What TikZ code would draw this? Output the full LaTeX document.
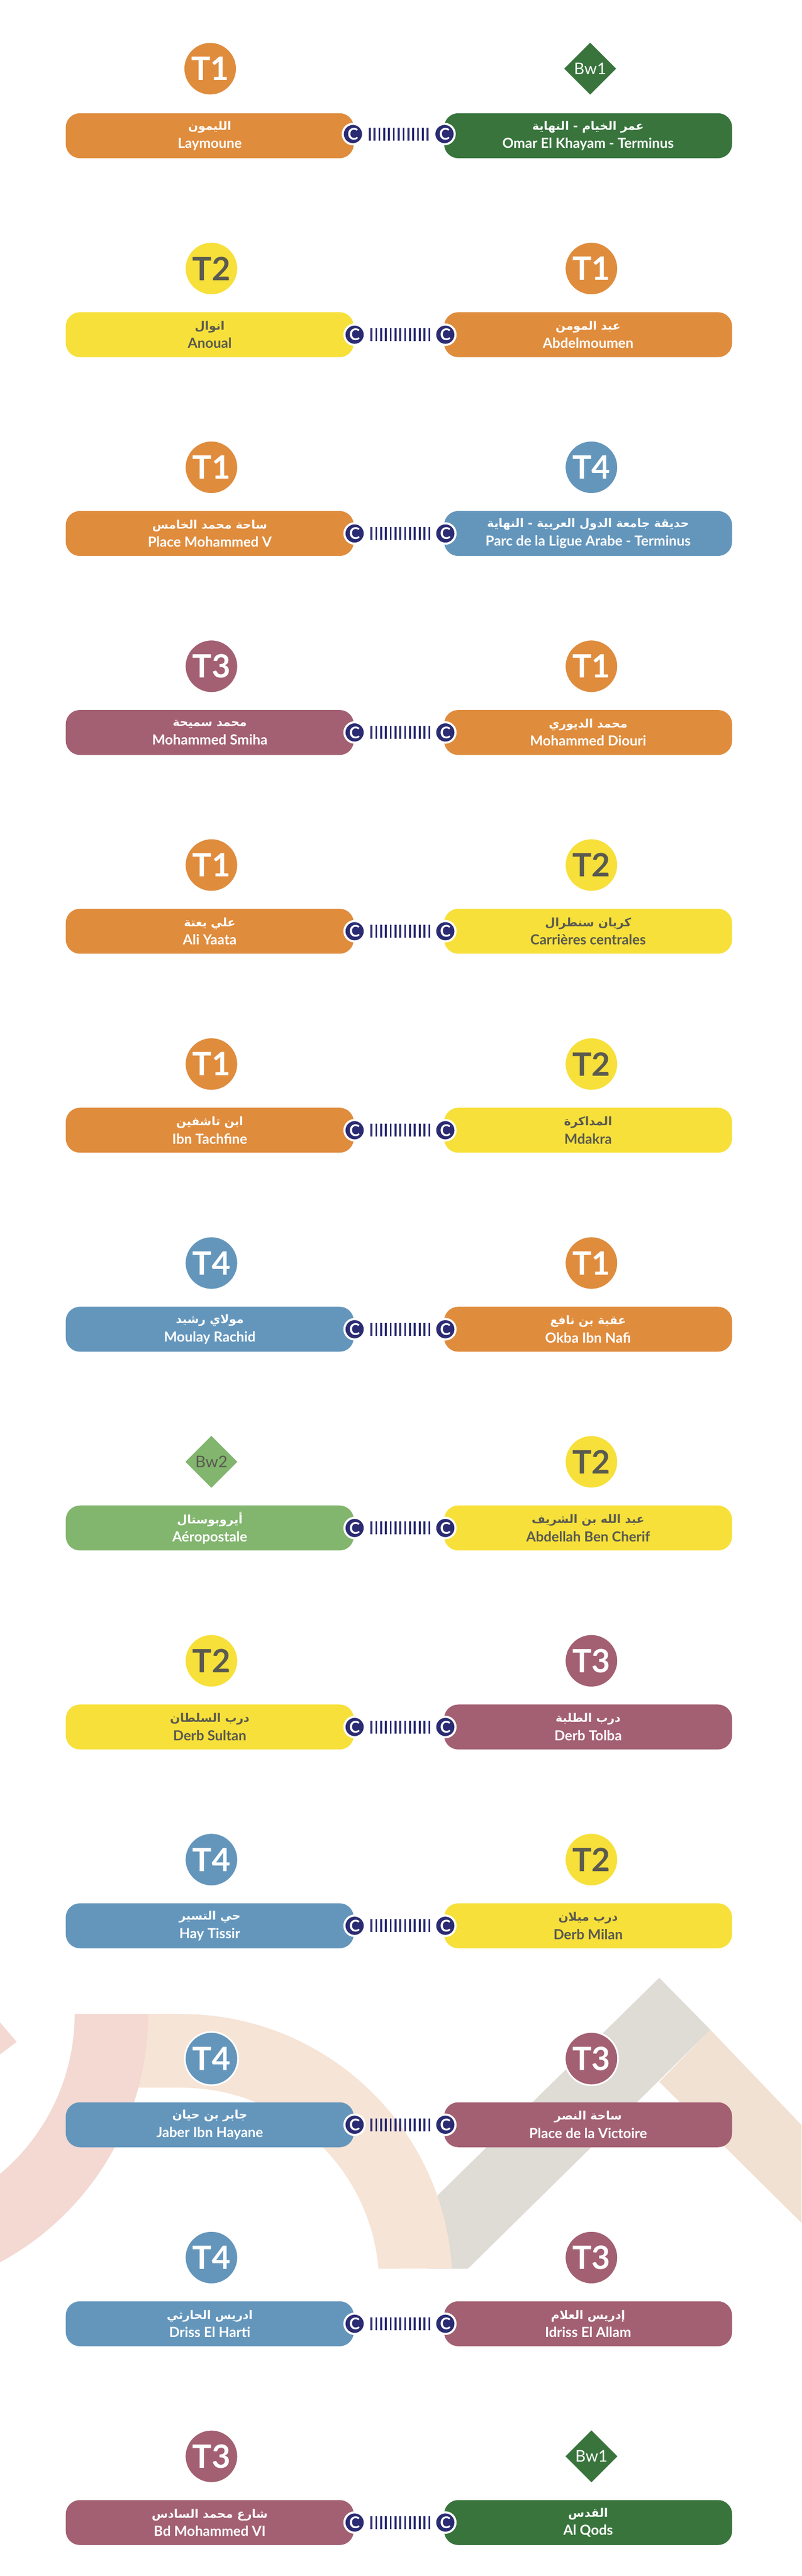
\documentclass[tikz,border=0pt]{standalone}
\usepackage{fontspec}
\setmainfont{Lato}
\newfontfamily\arabicfont[Script=Arabic]{DejaVu Sans}
\TeXXeTstate=1
\usetikzlibrary{shapes.geometric}
\definecolor{lineT1}{HTML}{DF8C3D}
\definecolor{lineT2}{HTML}{F7E03A}
\definecolor{lineT3}{HTML}{A36072}
\definecolor{lineT4}{HTML}{6496BC}
\definecolor{lineBa}{HTML}{38743C}
\definecolor{lineBb}{HTML}{82B56E}
\definecolor{darktext}{HTML}{5A5A50}
\definecolor{navy}{HTML}{2A2B72}
\definecolor{bgpink}{HTML}{F3D9D2}
\definecolor{bgpeach}{HTML}{F6E4D6}
\definecolor{bggrey}{HTML}{DFDBD5}
\definecolor{bgtan}{HTML}{F1E1D2}
\newcommand{\arname}[1]{{\arabicfont\fontsize{16}{25}\selectfont\beginR #1\endR}}
\tikzset{
    bar/.style={rounded corners=0.68cm, minimum width=13.84cm, minimum height=2.16cm, align=center, text=white, font=\fontsize{19}{25}\selectfont\bfseries},
    barT1/.style={bar, fill=lineT1},
    barT2/.style={bar, fill=lineT2, text=darktext},
    barT3/.style={bar, fill=lineT3},
    barT4/.style={bar, fill=lineT4},
    barBa/.style={bar, fill=lineBa},
    barBb/.style={bar, fill=lineBb},
    badge/.style={circle, draw=white, line width=0.08cm, minimum size=2.56cm, inner sep=0pt, text=white, font=\fontsize{44}{44}\selectfont\bfseries},
    badgeT1/.style={badge, fill=lineT1},
    badgeT2/.style={badge, fill=lineT2, text=darktext},
    badgeT3/.style={badge, fill=lineT3},
    badgeT4/.style={badge, fill=lineT4},
    tile/.style={diamond, minimum size=2.5cm, inner sep=0pt, font=\fontsize{22}{22}\selectfont},
    tileBa/.style={tile, fill=lineBa, text=white},
    tileBb/.style={tile, fill=lineBb, text=darktext},
    stopC/.style={circle, fill=navy, draw=white, line width=0.1cm, minimum size=0.98cm, inner sep=0pt, text=white, font=\fontsize{22}{22}\selectfont\bfseries},
    link/.style={navy, line width=0.62cm, dash pattern=on 0.09cm off 0.142cm, shorten <=0.22cm, shorten >=0.2cm}
}
\begin{document}
\begin{tikzpicture}
        \useasboundingbox (0,0) rectangle (38.52,-123.76);

        \fill[bggrey] (31.68,-95.02) -- (34.14,-97.52) -- (22.48,-109) -- (20.5,-109) -- (20.49,-106) -- cycle;
        \fill[bgtan] (34.14,-97.52) -- (38.52,-102.1) -- (38.52,-106.8) -- (31.68,-100.02) -- cycle;
        \fill[bgpeach] (6,-96.76) -- (8.72,-96.76) arc[start angle=90, end angle=3.52, radius=13.02] -- (18.186,-109) arc[start angle=4.83, end angle=90, radius=9.5] -- (6,-100.3) -- cycle;
        \fill[bgpink] (7.12,-96.76) arc[start angle=0, end angle=-61.66, radius=13.554] -- (0,-104.44) arc[start angle=-50.06, end angle=0, radius=10.02] -- cycle;
        \fill[bgpink] (0,-97.16) -- (0.8,-98.1) -- (0,-98.7) -- cycle;

        \node[barT1] (l1) at (10.08,-6.52) {\arname{الليمون}\\Laymoune};
        \node[barBa] (r1) at (28.26,-6.52) {\arname{عمر الخيام - النهاية}\\Omar El Khayam - Terminus};
        \node[badgeT1] (bl1) at (10.1,-3.3) {T1};
        \node[tileBa] (br1) at (28.36,-3.3) {Bw1};
        \node[stopC] (cl1) at (16.96,-6.44) {C};
        \node[stopC] (cr1) at (21.36,-6.44) {C};
        \draw[link] (cl1) -- (cr1);

        \node[barT2] (l2) at (10.08,-16.08) {\arname{انوال}\\Anoual};
        \node[barT1] (r2) at (28.26,-16.08) {\arname{عبد المومن}\\Abdelmoumen};
        \node[badgeT2] (bl2) at (10.16,-12.9) {T2};
        \node[badgeT1] (br2) at (28.42,-12.9) {T1};
        \node[stopC] (cl2) at (17.04,-16.08) {C};
        \node[stopC] (cr2) at (21.4,-16.08) {C};
        \draw[link] (cl2) -- (cr2);

        \node[barT1] (l3) at (10.08,-25.63) {\arname{ساحة محمد الخامس}\\Place Mohammed V};
        \node[barT4] (r3) at (28.26,-25.63) {\arname{حديقة جامعة الدول العربية - النهاية}\\Parc de la Ligue Arabe - Terminus};
        \node[badgeT1] (bl3) at (10.16,-22.45) {T1};
        \node[badgeT4] (br3) at (28.42,-22.45) {T4};
        \node[stopC] (cl3) at (17.04,-25.63) {C};
        \node[stopC] (cr3) at (21.4,-25.63) {C};
        \draw[link] (cl3) -- (cr3);

        \node[barT3] (l4) at (10.08,-35.19) {\arname{محمد سميحة}\\Mohammed Smiha};
        \node[barT1] (r4) at (28.26,-35.19) {\arname{محمد الديوري}\\Mohammed Diouri};
        \node[badgeT3] (bl4) at (10.16,-32.01) {T3};
        \node[badgeT1] (br4) at (28.42,-32.01) {T1};
        \node[stopC] (cl4) at (17.04,-35.19) {C};
        \node[stopC] (cr4) at (21.4,-35.19) {C};
        \draw[link] (cl4) -- (cr4);

        \node[barT1] (l5) at (10.08,-44.74) {\arname{علي يعتة}\\Ali Yaata};
        \node[barT2] (r5) at (28.26,-44.74) {\arname{كريان سنطرال}\\Carrières centrales};
        \node[badgeT1] (bl5) at (10.16,-41.56) {T1};
        \node[badgeT2] (br5) at (28.42,-41.56) {T2};
        \node[stopC] (cl5) at (17.04,-44.74) {C};
        \node[stopC] (cr5) at (21.4,-44.74) {C};
        \draw[link] (cl5) -- (cr5);

        \node[barT1] (l6) at (10.08,-54.3) {\arname{ابن تاشفين}\\Ibn Tachfine};
        \node[barT2] (r6) at (28.26,-54.3) {\arname{المداكرة}\\Mdakra};
        \node[badgeT1] (bl6) at (10.16,-51.12) {T1};
        \node[badgeT2] (br6) at (28.42,-51.12) {T2};
        \node[stopC] (cl6) at (17.04,-54.3) {C};
        \node[stopC] (cr6) at (21.4,-54.3) {C};
        \draw[link] (cl6) -- (cr6);

        \node[barT4] (l7) at (10.08,-63.86) {\arname{مولاي رشيد}\\Moulay Rachid};
        \node[barT1] (r7) at (28.26,-63.86) {\arname{عقبة بن نافع}\\Okba Ibn Nafi};
        \node[badgeT4] (bl7) at (10.16,-60.68) {T4};
        \node[badgeT1] (br7) at (28.42,-60.68) {T1};
        \node[stopC] (cl7) at (17.04,-63.86) {C};
        \node[stopC] (cr7) at (21.4,-63.86) {C};
        \draw[link] (cl7) -- (cr7);

        \node[barBb] (l8) at (10.08,-73.41) {\arname{أيروبوستال}\\Aéropostale};
        \node[barT2] (r8) at (28.26,-73.41) {\arname{عبد الله بن الشريف}\\Abdellah Ben Cherif};
        \node[tileBb] (bl8) at (10.16,-70.23) {Bw2};
        \node[badgeT2] (br8) at (28.42,-70.23) {T2};
        \node[stopC] (cl8) at (17.04,-73.41) {C};
        \node[stopC] (cr8) at (21.4,-73.41) {C};
        \draw[link] (cl8) -- (cr8);

        \node[barT2] (l9) at (10.08,-82.97) {\arname{درب السلطان}\\Derb Sultan};
        \node[barT3] (r9) at (28.26,-82.97) {\arname{درب الطلبة}\\Derb Tolba};
        \node[badgeT2] (bl9) at (10.16,-79.79) {T2};
        \node[badgeT3] (br9) at (28.42,-79.79) {T3};
        \node[stopC] (cl9) at (17.04,-82.97) {C};
        \node[stopC] (cr9) at (21.4,-82.97) {C};
        \draw[link] (cl9) -- (cr9);

        \node[barT4] (l10) at (10.08,-92.52) {\arname{حي التسير}\\Hay Tissir};
        \node[barT2] (r10) at (28.26,-92.52) {\arname{درب ميلان}\\Derb Milan};
        \node[badgeT4] (bl10) at (10.16,-89.34) {T4};
        \node[badgeT2] (br10) at (28.42,-89.34) {T2};
        \node[stopC] (cl10) at (17.04,-92.52) {C};
        \node[stopC] (cr10) at (21.4,-92.52) {C};
        \draw[link] (cl10) -- (cr10);

        \node[barT4] (l11) at (10.08,-102.08) {\arname{جابر بن حيان}\\Jaber Ibn Hayane};
        \node[barT3] (r11) at (28.26,-102.08) {\arname{ساحة النصر}\\Place de la Victoire};
        \node[badgeT4] (bl11) at (10.16,-98.9) {T4};
        \node[badgeT3] (br11) at (28.42,-98.9) {T3};
        \node[stopC] (cl11) at (17.04,-102.08) {C};
        \node[stopC] (cr11) at (21.4,-102.08) {C};
        \draw[link] (cl11) -- (cr11);

        \node[barT4] (l12) at (10.08,-111.64) {\arname{ادريس الحارثي}\\Driss El Harti};
        \node[barT3] (r12) at (28.26,-111.64) {\arname{إدريس العلام}\\Idriss El Allam};
        \node[badgeT4] (bl12) at (10.16,-108.46) {T4};
        \node[badgeT3] (br12) at (28.42,-108.46) {T3};
        \node[stopC] (cl12) at (17.04,-111.64) {C};
        \node[stopC] (cr12) at (21.4,-111.64) {C};
        \draw[link] (cl12) -- (cr12);

        \node[barT3] (l13) at (10.08,-121.19) {\arname{شارع محمد السادس}\\Bd Mohammed VI};
        \node[barBa] (r13) at (28.26,-121.19) {\arname{القدس}\\Al Qods};
        \node[badgeT3] (bl13) at (10.16,-118.01) {T3};
        \node[tileBa] (br13) at (28.42,-118.01) {Bw1};
        \node[stopC] (cl13) at (17.04,-121.19) {C};
        \node[stopC] (cr13) at (21.4,-121.19) {C};
        \draw[link] (cl13) -- (cr13);
    \end{tikzpicture}
\end{document}
